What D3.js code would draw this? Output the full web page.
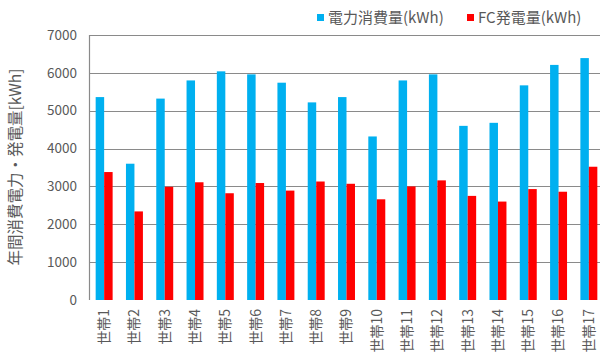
<!DOCTYPE html>
<html>
<head>
<meta charset="utf-8">
<script src="https://cdn.jsdelivr.net/npm/d3@7"></script>
<style>
body{margin:0;background:#fff;}
svg{display:block;font-family:"Noto Sans CJK JP","Noto Sans",sans-serif;}
</style>
</head>
<body>
<svg id="chart" width="600" height="354"></svg>
<script>
// 世帯ごとの年間消費電力とFC発電量
var households=["世帯1","世帯2","世帯3","世帯4","世帯5","世帯6","世帯7","世帯8","世帯9","世帯10","世帯11","世帯12","世帯13","世帯14","世帯15","世帯16","世帯17"];
var consumption=[5360,3600,5320,5800,6040,5960,5740,5220,5360,4320,5800,5960,4600,4680,5670,6210,6390];
var fcGeneration=[3380,2340,2990,3110,2820,3090,2890,3130,3070,2660,3000,3160,2750,2600,2930,2860,3520];
var seriesNames=["電力消費量(kWh)","FC発電量(kWh)"];
var seriesColors=["#00b0f0","#ff0000"];
var yTicks=[0,1000,2000,3000,4000,5000,6000,7000];
var yTitle="年間消費電力・発電量[kWh]";

var svg=d3.select("#chart");
var LEFT=89,RIGHT=604,TOP=35,BOTTOM=300;

var data=households.map(function(h,i){return {name:h,values:[consumption[i],fcGeneration[i]]};});

var y=d3.scaleLinear().domain([0,7000]).range([BOTTOM,TOP]);
var x0=d3.scaleBand().domain(households).range([LEFT,RIGHT]).paddingInner(0.44).paddingOuter(0.22);
var x1=d3.scaleBand().domain([0,1]).range([0,x0.bandwidth()]);

// grid
svg.append("g").attr("class","grid").selectAll("line").data(yTicks.filter(function(d){return d>0;}))
  .enter().append("line")
  .attr("x1",LEFT).attr("x2",600)
  .attr("y1",function(d){return Math.round(y(d))+0.5;})
  .attr("y2",function(d){return Math.round(y(d))+0.5;})
  .attr("stroke","#8a8a8a").attr("stroke-width",1.2);

// left axis line
svg.append("line").attr("x1",LEFT+0.5).attr("x2",LEFT+0.5).attr("y1",TOP).attr("y2",BOTTOM)
  .attr("stroke","#8a8a8a").attr("stroke-width",1.2);

// bars
var groups=svg.append("g").attr("class","bars").selectAll("g").data(data).enter().append("g")
  .attr("transform",function(d){return "translate("+x0(d.name)+",0)";});
groups.selectAll("rect").data(function(d){return d.values;}).enter().append("rect")
  .attr("x",function(d,i){return x1(i);})
  .attr("width",x1.bandwidth())
  .attr("y",function(d){return y(d);})
  .attr("height",function(d){return BOTTOM-y(d);})
  .attr("fill",function(d,i){return seriesColors[i];});

// y tick labels
svg.append("g").selectAll("text").data(yTicks).enter().append("text")
  .attr("x",77).attr("y",function(d){return y(d);}).attr("dy","0.35em")
  .attr("text-anchor","end").attr("font-size",13.5).attr("fill","#595959")
  .text(function(d){return d;});

// x labels
svg.append("g").selectAll("text").data(households).enter().append("text")
  .attr("transform",function(d){return "translate("+(x0(d)+x0.bandwidth()/2)+",309) rotate(-90)";})
  .attr("dy","0.35em").attr("text-anchor","end").attr("font-size",14).attr("fill","#595959")
  .text(function(d){return d;});

// y title
svg.append("text").attr("transform","translate(16,167) rotate(-90)")
  .attr("dy","0.35em").attr("text-anchor","middle").attr("font-size",15.5).attr("fill","#595959")
  .text(yTitle);

// legend
var legendX=[317,467];
var legend=svg.append("g").selectAll("g").data(seriesNames).enter().append("g")
  .attr("transform",function(d,i){return "translate("+legendX[i]+",0)";});
legend.append("rect").attr("x",0).attr("y",14).attr("width",7).attr("height",7)
  .attr("fill",function(d,i){return seriesColors[i];});
legend.append("text").attr("x",11).attr("y",18).attr("dy","0.35em").attr("font-size",15)
  .attr("fill","#595959").text(function(d){return d;});
</script>
</body>
</html>
